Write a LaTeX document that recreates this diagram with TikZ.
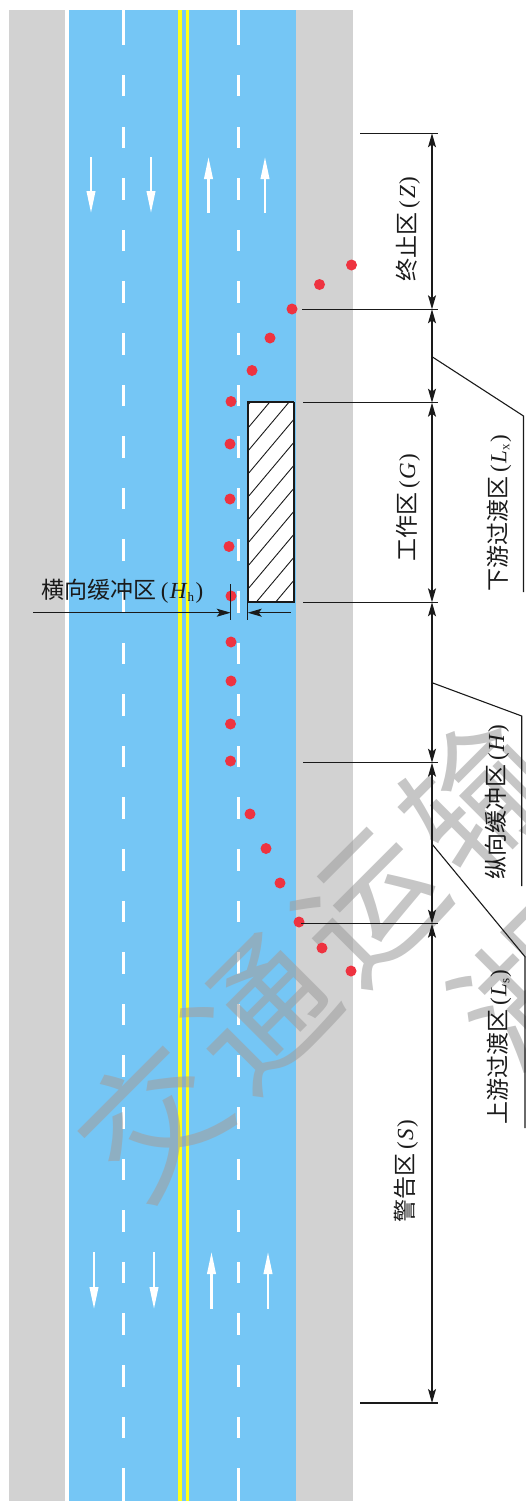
\documentclass[tikz,border=0pt]{standalone}
\usepackage{fontspec}
\usetikzlibrary{arrows.meta}
\setmainfont{Liberation Serif}
\newfontfamily\cjk{Noto Sans CJK SC}
\definecolor{roadblue}{HTML}{75C6F5}
\definecolor{shoulder}{HTML}{D2D2D2}
\definecolor{lineyellow}{HTML}{FFFF1A}
\definecolor{conered}{HTML}{EE3340}
\definecolor{inkdark}{HTML}{1A1A1A}
\definecolor{markgray}{HTML}{A0A0A0}
\newcommand{\zonelabel}[3]{{\cjk #1}\kern4pt(\kern1.5pt\textit{#2}\ifx&#3&\else\raisebox{-3pt}{\fontsize{13}{13}\selectfont #3}\fi\kern1.5pt)}
\tikzset{
  dimtip/.tip={Stealth[length=14pt,width=8pt,inset=3pt]},
  dimarrow/.style={draw=inkdark,line width=1.2pt,{dimtip}-{dimtip}},
  tickline/.style={draw=inkdark,line width=1.1pt},
  leaderline/.style={draw=inkdark,line width=1.1pt},
  sidelabel/.style={rotate=90,font=\fontsize{23}{23}\selectfont,inner sep=0pt,text=inkdark},
  cone/.style={circle,fill=conered,minimum size=11pt,inner sep=0pt},
  dashmark/.style={fill=white},
  travelarrow/.style={draw=white,line width=2.2pt,-{Stealth[length=22pt,width=8.5pt,inset=0pt]}},
  watermark/.style={text=markgray,opacity=.6,font=\cjk\fontsize{140}{140}\selectfont,inner sep=0pt}
}
\begin{document}
\begin{tikzpicture}[x=1pt,y=-1pt]
\useasboundingbox (0,0) rectangle (526,1501);
% road
\fill[shoulder] (9,10) rectangle (65,1501);
\fill[white] (65,10) rectangle (68.5,1501);
\fill[roadblue] (68.5,10) rectangle (296,1501);
\fill[shoulder] (296,10) rectangle (353,1501);
\fill[lineyellow] (178,10) rectangle (182,1501);
\fill[lineyellow] (185.5,10) rectangle (189,1501);
% lane dashes
\fill[dashmark] (121.5,10) rectangle (125,45);
\fill[dashmark] (236.5,10) rectangle (240,45);
\foreach \k in {0,...,27}{
  \pgfmathsetmacro{\ya}{75+51.6*\k}
  \pgfmathsetmacro{\yb}{\ya+21.5}
  \fill[dashmark] (121.5,\ya) rectangle (125,\yb);
  \fill[dashmark] (236.5,\ya) rectangle (240,\yb);
}
\fill[dashmark] (121.5,1470) rectangle (125,1501);
\fill[dashmark] (236.5,1470) rectangle (240,1501);
% travel arrows
\foreach \x in {91,151}{\draw[travelarrow] (\x,157) -- (\x,213);}
\foreach \x in {208.5,265}{\draw[travelarrow] (\x,213) -- (\x,157);}
\foreach \x in {94,154}{\draw[travelarrow] (\x,1252) -- (\x,1309);}
\foreach \x in {211.5,268}{\draw[travelarrow] (\x,1309) -- (\x,1252);}
% watermark
\node[watermark,rotate=45] (wmark) at (314,958) {交\kern13pt通\kern13pt运\kern13pt输};
\node[watermark,rotate=45] (wmarkb) at (528,990) {湖};
% work zone
\node[draw=inkdark,line width=1.4pt,fill=white,minimum width=46pt,minimum height=200pt,inner sep=0pt,anchor=north west] (work) at (247.7,401.7) {};
\begin{scope}
\clip (247.7,401.7) rectangle (293.7,601.7);
\foreach \k in {-1,...,16}{
  \pgfmathsetmacro{\yk}{428.3+23*\k}
  \pgfmathsetmacro{\ye}{\yk-1.19*60}
  \draw[inkdark,line width=.9pt] (247.7,\yk) -- (307.7,\ye);
}
\end{scope}
\draw[inkdark,line width=1.5pt] (247.7,401.7) rectangle (293.7,601.7);
% cones
\foreach \n/\x/\y in {a/351.5/265,b/319.5/284.5,c/292/309,d/270/338,e/252/370.5,f/231/401.5,g/230/444,h/230/499,i/229/546.5,j/231/596,k/231/642,l/231/681,m/230.5/724,n/230.5/761,o/250/814,p/266/848.5,q/280/883,r/299/922,s/322/948,t/351/971}{
  \node[cone] (cone\n) at (\x,\y) {};
}
% dimension chain
\foreach \n/\y in {0/133.3,1/309.3,2/402.7,3/602.3,4/762.7,5/923.7,6/1403}{
  \coordinate (dim\n) at (432,\y);
  \coordinate (tickend\n) at (438,\y);
}
\coordinate (tickstart0) at (360,133.3);
\coordinate (tickstart1) at (302,309.3);
\coordinate (tickstart2) at (303,402.7);
\coordinate (tickstart3) at (303,602.3);
\coordinate (tickstart4) at (303,762.7);
\coordinate (tickstart5) at (301,923.7);
\coordinate (tickstart6) at (360,1403);
\foreach \n in {0,...,6}{\draw[tickline] (tickstart\n) -- (tickend\n);}
\draw[dimarrow] (dim0) -- (dim1);
\draw[dimarrow] (dim1) -- (dim2);
\draw[dimarrow] (dim2) -- (dim3);
\draw[dimarrow] (dim3) -- (dim4);
\draw[dimarrow] (dim4) -- (dim5);
\draw[dimarrow] (dim5) -- (dim6);
% leaders
\coordinate (leadaa) at (432,356.7);
\coordinate (leadab) at (523.5,416);
\coordinate (leadac) at (523.5,592);
\coordinate (leadba) at (432,682.7);
\coordinate (leadbb) at (521.7,716);
\coordinate (leadbc) at (521.7,886);
\coordinate (leadca) at (432,844);
\coordinate (leadcb) at (525,956.7);
\coordinate (leadcc) at (525,1128);
\draw[leaderline] (leadaa) -- (leadab) -- (leadac);
\draw[leaderline] (leadba) -- (leadbb) -- (leadbc);
\draw[leaderline] (leadca) -- (leadcb) -- (leadcc);
% labels
\node[sidelabel] (zlabel) at (408,229) {\zonelabel{终止区}{Z}{}};
\node[sidelabel] (glabel) at (408,507.5) {\zonelabel{工作区}{G}{}};
\node[sidelabel] (slabel) at (406,1171) {\zonelabel{警告区}{S}{}};
\node[sidelabel] (lxlabel) at (499,513.5) {\zonelabel{下游过渡区}{L}{x}};
\node[sidelabel] (hlabel) at (497,802.5) {\zonelabel{纵向缓冲区}{H}{}};
\node[sidelabel] (lslabel) at (499,1047) {\zonelabel{上游过渡区}{L}{s}};
% lateral buffer
\node[font=\fontsize{23}{23}\selectfont,inner sep=0pt,text=inkdark] (hhlabel) at (122.5,591) {\zonelabel{横向缓冲区}{H}{h}};
\coordinate (latfree) at (33,612.7);
\coordinate (latl) at (230.7,612.7);
\coordinate (latr) at (247.7,612.7);
\coordinate (latend) at (290.7,612.7);
\coordinate (latla) at (230.7,584);
\coordinate (latlb) at (230.7,620);
\coordinate (latra) at (247.7,602);
\coordinate (latrb) at (247.7,620);
\draw[tickline] (latla) -- (latlb);
\draw[tickline] (latra) -- (latrb);
\draw[draw=inkdark,line width=1.1pt,-{dimtip}] (latfree) -- (latl);
\draw[draw=inkdark,line width=1.1pt,-{dimtip}] (latend) -- (latr);
\end{tikzpicture}
\end{document}
